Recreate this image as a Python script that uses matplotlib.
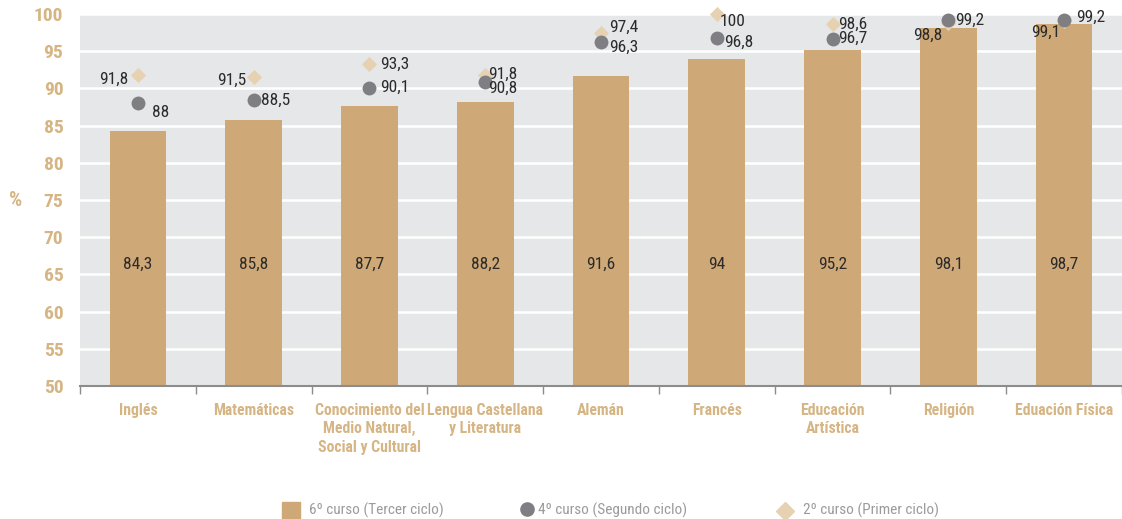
import numpy as np
import matplotlib.pyplot as plt
from matplotlib.lines import Line2D
from matplotlib.patches import Rectangle

# Data
categories = ["Inglés", "Matemáticas", "Conocimiento del\nMedio Natural,\nSocial y Cultural",
              "Lengua Castellana\ny Literatura", "Alemán", "Francés", "Educación\nArtística",
              "Religión", "Eduación Física"]
sexto = [84.3, 85.8, 87.7, 88.2, 91.6, 94.0, 95.2, 98.1, 98.7]
cuarto = [88, 88.5, 90.1, 90.8, 96.3, 96.8, 96.7, 99.2, 99.2]
segundo = [91.8, 91.5, 93.3, 91.8, 97.4, 100, 98.6, 98.8, 99.1]
legend_labels = ["6º curso (Tercer ciclo)", "4º curso (Segundo ciclo)", "2º curso (Primer ciclo)"]

# label offsets in pixels (dx, dy) from the marker
off_cuarto = [(23, -9), (22, -1), (25, 0), (18, -6), (23, -6), (22, -5), (20, 0), (21, 0), (27, 3)]
off_segundo = [(-24, -4), (-22, -3), (25, 0), (18, 1), (23, 6), (16, -7), (20, 0), (-21, -12), (-18, -12)]

TAN = "#cea877"
TICK_TAN = "#d6b585"
LIGHT = "#e6d2b3"
GREY = "#7f7f83"
BG = "#e6e7e9"
TXT = "#2b2b2b"

plt.rcParams['font.family'] = ['Roboto Condensed', 'DejaVu Sans']

def fmt(v):
    s = f"{v:.1f}".replace(".", ",")
    return s[:-2] if s.endswith(",0") else s

W, H = 1122, 519
fig = plt.figure(figsize=(W / 100, H / 100), dpi=100)
ax = fig.add_axes([80 / W, 1 - 386 / H, 1 - 80 / W, 372 / H])
ax.set_facecolor(BG)

x = np.arange(len(categories))
ax.bar(x, np.array(sexto) - 50, bottom=50, width=0.49, color=TAN, zorder=2)
ax.scatter(x, segundo, marker="D", s=60, color=LIGHT, zorder=3, clip_on=False, linewidths=0)
ax.scatter(x, cuarto, marker="o", s=100, color=GREY, zorder=4, clip_on=False, linewidths=0)

px = 72 / 100
for i in range(len(categories)):
    ax.text(x[i], 66.3, fmt(sexto[i]), ha="center", va="center", fontsize=12.5, color=TXT, zorder=5)
    ax.annotate(fmt(cuarto[i]), (x[i], cuarto[i]), xytext=(off_cuarto[i][0] * px, off_cuarto[i][1] * px),
                textcoords="offset points", ha="center", va="center", fontsize=12.5, color=TXT, zorder=5,
                annotation_clip=False)
    ax.annotate(fmt(segundo[i]), (x[i], segundo[i]), xytext=(off_segundo[i][0] * px, off_segundo[i][1] * px),
                textcoords="offset points", ha="center", va="center", fontsize=12.5, color=TXT, zorder=5,
                annotation_clip=False)

ax.set_ylim(50, 100)
ax.set_xlim(-0.5, -0.5 + (W - 80) / 117)
ax.set_yticks(range(50, 101, 5))
ax.yaxis.grid(True, color="white", linewidth=1.8, zorder=1)
ax.set_axisbelow(True)
ax.tick_params(axis="y", length=0, pad=12, labelsize=14, labelcolor=TICK_TAN)
for lab in ax.get_yticklabels():
    lab.set_fontweight("bold")

ax.set_xticks(x)
ax.set_xticklabels(categories, fontsize=11.3, color=TICK_TAN, fontweight="semibold", va="top",
                   linespacing=1.3)
ax.tick_params(axis="x", which="major", length=0, pad=12)
ax.set_xticks(np.arange(-0.5, len(categories), 1), minor=True)
ax.tick_params(axis="x", which="minor", length=6, width=1, color="#8c8c8c")

for s in ["top", "right", "left"]:
    ax.spines[s].set_visible(False)
ax.spines["bottom"].set_color("#8c8c8c")
ax.spines["bottom"].set_linewidth(1.5)

fig.text(16 / W, 1 - 200 / H, "%", fontsize=15, fontweight="bold", color=TICK_TAN, ha="center", va="center")

# legend, laid out by hand along the bottom
fig.patches.append(Rectangle((282 / W, 1 - 519 / H), 18 / W, 17 / H, transform=fig.transFigure,
                             color=TAN, figure=fig))
fig.lines.append(Line2D([527 / W], [1 - 509 / H], marker="o", markersize=9.5, color=GREY,
                        linestyle="none", transform=fig.transFigure, figure=fig))
fig.lines.append(Line2D([785 / W], [1 - 511 / H], marker="D", markersize=9, color=LIGHT,
                        linestyle="none", transform=fig.transFigure, figure=fig))
for xt, lab in zip([309, 538, 803], legend_labels):
    fig.text(xt / W, 1 - 510 / H, lab, fontsize=11, color="#9b9b9b", ha="left", va="center")

fig.savefig("out.png", dpi=100)
